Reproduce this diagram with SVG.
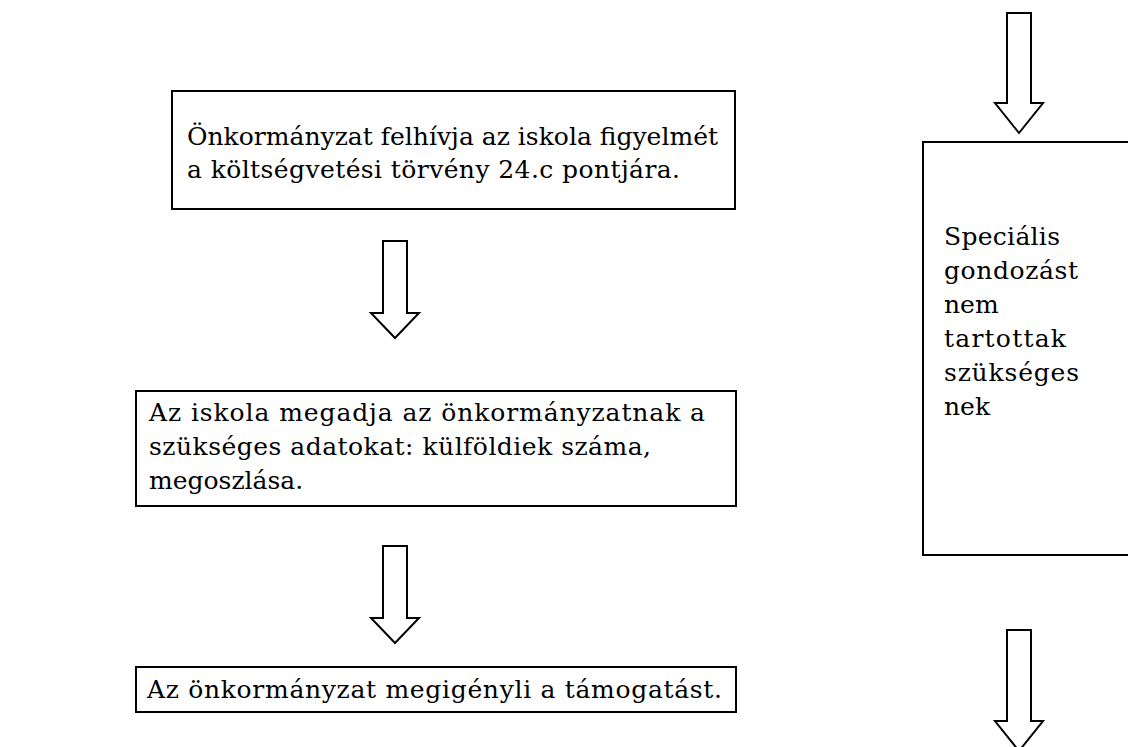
<svg xmlns="http://www.w3.org/2000/svg" width="1128" height="747" viewBox="0 0 1128 747">
<style>
.box{fill:#fff;stroke:#000;stroke-width:2}
.arrow{fill:#fff;stroke:#000;stroke-width:2;stroke-linejoin:miter}
.t{font-family:"DejaVu Serif","Liberation Serif",serif;font-size:25px;fill:#000}
</style>
<rect width="1128" height="747" fill="#fff"/>
<g id="node1">
<rect class="box" x="172" y="91" width="563" height="118"/>
<text class="t" x="187" y="145" textLength="531" lengthAdjust="spacing">Önkormányzat felhívja az iskola figyelmét</text>
<text class="t" x="187" y="178" textLength="493" lengthAdjust="spacing">a költségvetési törvény 24.c pontjára.</text>
</g>
<g id="node2">
<rect class="box" x="136" y="391" width="600" height="115"/>
<text class="t" x="149" y="421" textLength="556" lengthAdjust="spacing">Az iskola megadja az önkormányzatnak a</text>
<text class="t" x="149" y="455" textLength="502" lengthAdjust="spacing">szükséges adatokat: külföldiek száma,</text>
<text class="t" x="149" y="489">megoszlása.</text>
</g>
<g id="node3">
<rect class="box" x="136" y="667" width="600" height="45"/>
<text class="t" x="147" y="698" textLength="575" lengthAdjust="spacing">Az önkormányzat megigényli a támogatást.</text>
</g>
<g id="node4">
<rect class="box" x="923" y="142" width="210" height="413"/>
<text class="t" x="944" y="245" textLength="116" lengthAdjust="spacing">Speciális</text>
<text class="t" x="944" y="279" textLength="134" lengthAdjust="spacing">gondozást</text>
<text class="t" x="944" y="313">nem</text>
<text class="t" x="944" y="347" textLength="122" lengthAdjust="spacing">tartottak</text>
<text class="t" x="944" y="381" textLength="135" lengthAdjust="spacing">szükséges</text>
<text class="t" x="944" y="415">nek</text>
</g>
<g id="connectors">
<path class="arrow" d="M383,241 H407 V313 H419 L395,338 L371,313 H383 Z"/>
<path class="arrow" d="M383,546 H407 V618 H419 L395,643 L371,618 H383 Z"/>
<path class="arrow" d="M1007,13 H1031 V103 H1043 L1019,133 L995,103 H1007 Z"/>
<path class="arrow" d="M1007,630 H1031 V721 H1043 L1019,751 L995,721 H1007 Z"/>
</g>
</svg>
